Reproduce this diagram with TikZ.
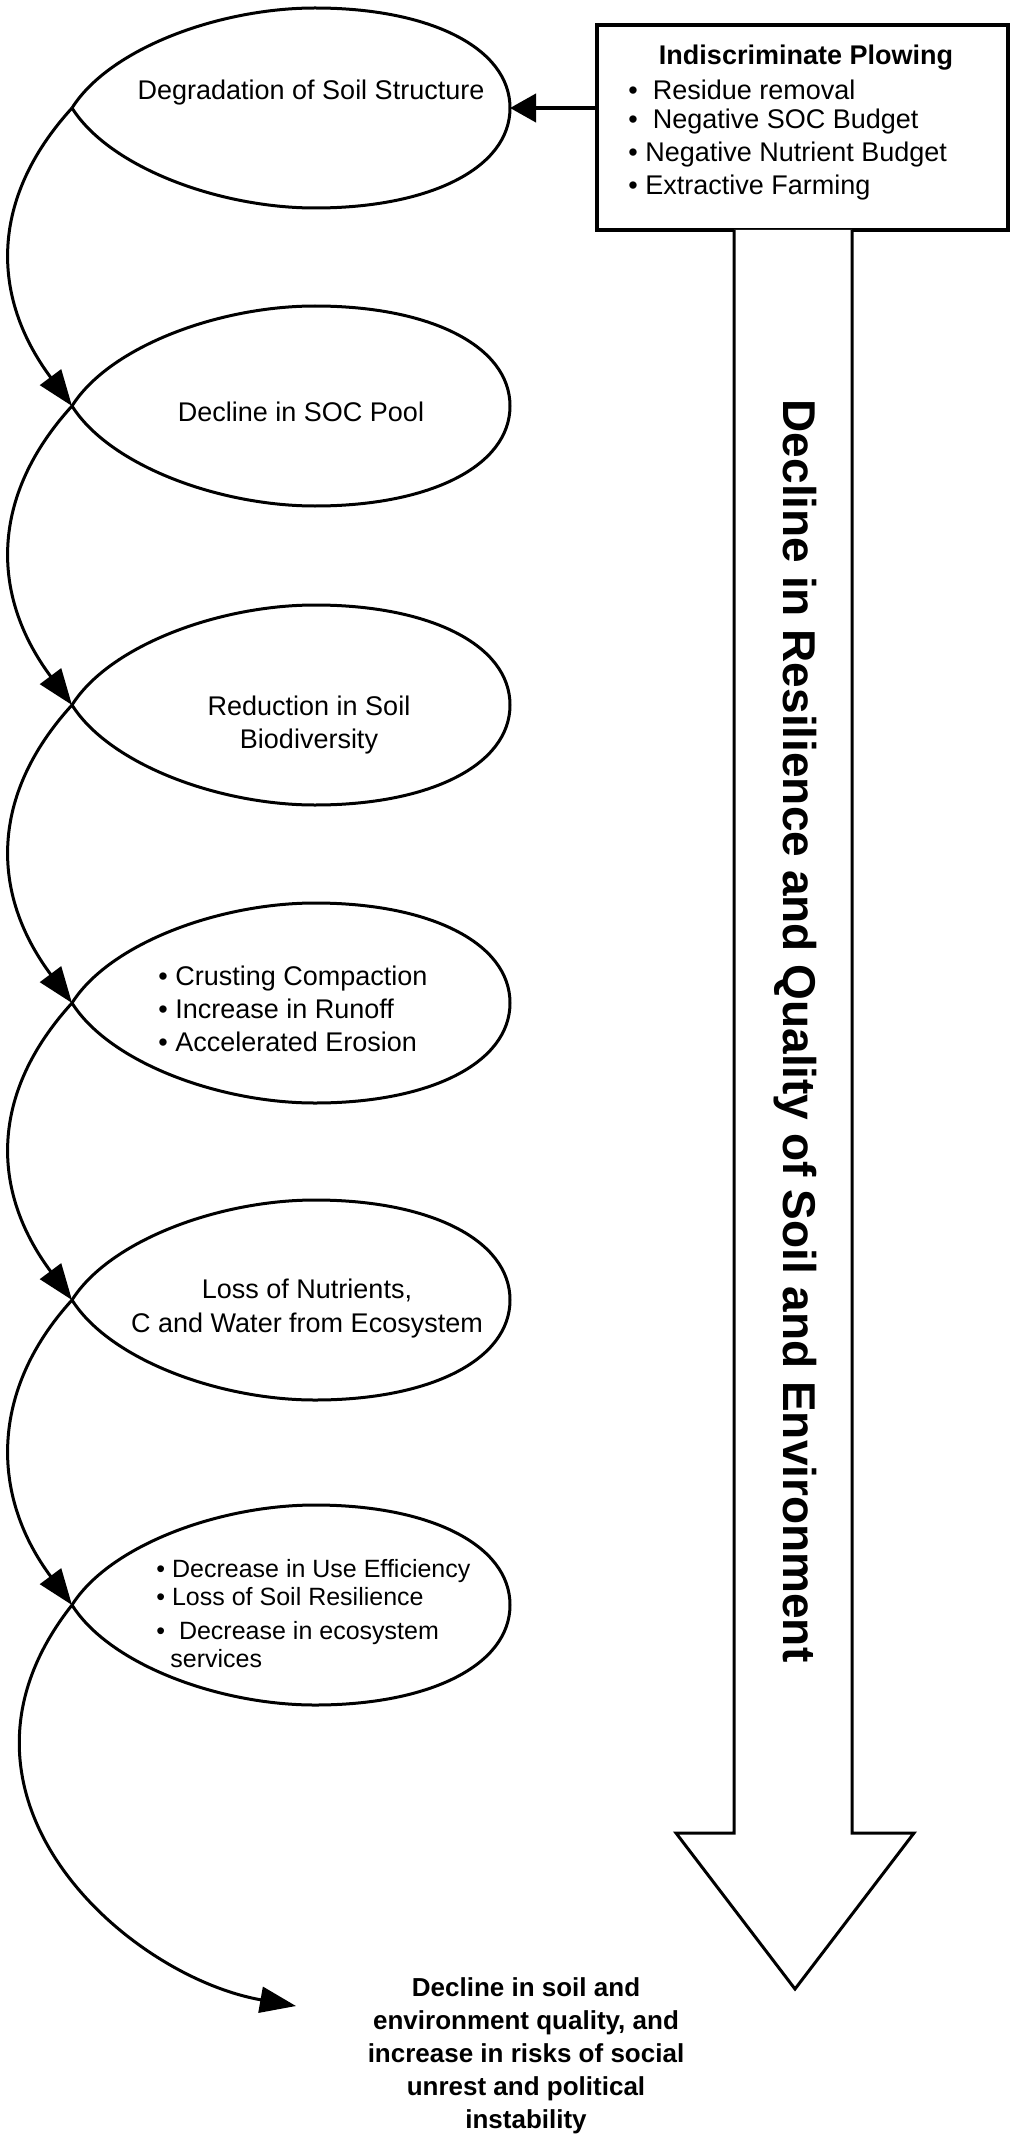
\documentclass[tikz,border=0pt]{standalone}
\usepackage{fontspec}
\setmainfont{Liberation Sans}
\usetikzlibrary{arrows.meta}
\begin{document}
\begin{tikzpicture}[x=0.5pt,y=-0.5pt,
  loopline/.style={line width=1.5pt},
  flow/.style={line width=1.5pt,-{Triangle[length=18pt,width=13pt]}},
  lbl/.style={font=\fontsize{13.5}{16}\selectfont,align=center,inner sep=0pt},
  blt/.style={font=\fontsize{13.5}{16.5}\selectfont,align=left,anchor=west,inner sep=0pt}]
\useasboundingbox (0,0) rectangle (1024,2145);
% cusps
\foreach \n/\y in {1/108,2/406,3/705,4/1003,5/1300,6/1605}{
  \coordinate (c\n) at (72,\y);
  \draw[loopline] (c\n) .. controls +(38,60) and +(-95,0) .. (315,\y+100)
    .. controls +(115,0) and +(0,60) .. (510,\y)
    .. controls +(0,-60) and +(115,0) .. (315,\y-100)
    .. controls +(-95,0) and +(38,-60) .. (c\n);
  \coordinate (r\n) at (510,\y);
}
\foreach \a/\b in {1/2,2/3,3/4,4/5,5/6}{
  \draw[flow] (c\a) .. controls +(-82,90) and +(-82,-110) .. (c\b);
}
\coordinate (endp) at (296,2006);
\draw[flow] (c6) .. controls +(-150,190) and +(-170,-30) .. (endp);
% box
\node[draw,line width=2pt,minimum width=205.5pt,minimum height=102.5pt,inner sep=0pt] (box) at (802.5,127.5) {};
\draw[line width=2pt,-{Triangle[length=13pt,width=14pt]}] (box.west |- r1) -- (r1);
\node[font=\bfseries\fontsize{13.5}{15}\selectfont,inner sep=0pt] (title) at (806,58) {Indiscriminate Plowing};
\node[blt] (b1) at (628,90) {\textbullet\ \ Residue removal};
\node[blt] (b2) at (628,122) {\textbullet\ \ Negative SOC Budget};
\node[blt] (b3) at (628,155) {\textbullet\ Negative Nutrient Budget};
\node[blt] (b4) at (628,188) {\textbullet\ Extractive Farming};
% big arrow
\draw[line width=1.5pt,fill=white] (734,230) -- (734,1833) -- (676,1833) -- (795,1989) -- (914,1833) -- (852,1833) -- (852,230);
\node[rotate=-90,font=\bfseries\fontsize{23}{26}\selectfont,inner sep=0pt] (big) at (795,1031) {Decline in Resilience and Quality of Soil and Environment};
% loop texts
\node[lbl] (t1) at (311,93) {Degradation of Soil Structure};
\node[lbl] (t2) at (301,412) {Decline in SOC Pool};
\node[lbl,font=\fontsize{13.5}{16.5}\selectfont] (t3) at (309,725) {Reduction in Soil\\Biodiversity};
\node[blt] (t4) at (158,1009) {\textbullet\ Crusting Compaction\\\textbullet\ Increase in Runoff\\\textbullet\ Accelerated Erosion};
\node[lbl,font=\fontsize{13.5}{17}\selectfont] (t5) at (307,1309) {Loss of Nutrients,\\C and Water from Ecosystem};
\node[blt,font=\fontsize{12.5}{14}\selectfont] (t6) at (156,1614) {\textbullet\ Decrease in Use Efficiency\\\textbullet\ Loss of Soil Resilience\\[3pt]\textbullet\ \ Decrease in ecosystem\\\hspace*{7pt}services};
\node[lbl,font=\bfseries\fontsize{13}{16.5}\selectfont] (final) at (526,2056) {Decline in soil and\\environment quality, and\\increase in risks of social\\unrest and political\\instability};
\end{tikzpicture}
\end{document}
